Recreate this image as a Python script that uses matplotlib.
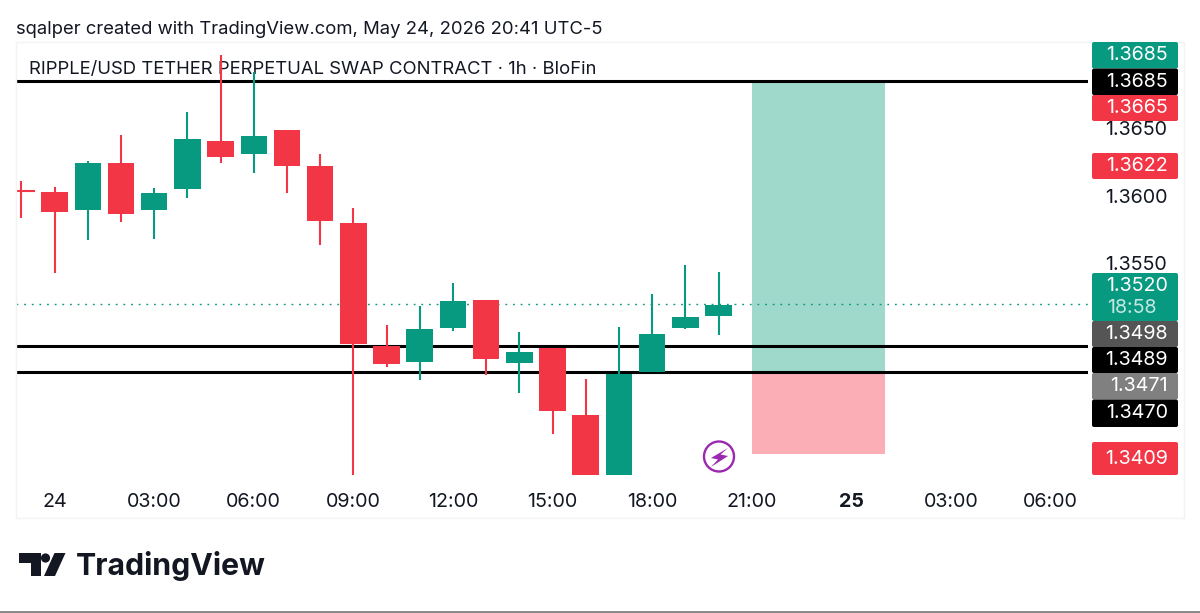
import matplotlib
matplotlib.use('Agg')
import matplotlib.pyplot as plt
from matplotlib.patches import Rectangle, FancyBboxPatch, Polygon, Circle
from matplotlib.transforms import Affine2D

plt.rcParams['font.family'] = ['Inter', 'DejaVu Sans']

W, H = 1200, 613

# hours from May 24 00:00
hours = [-1, 0, 1, 2, 3, 4, 5, 6, 7, 8, 9, 10, 11, 12, 13, 14, 15, 16, 17, 18, 19, 20]
opens = [1.36039, 1.36029, 1.35898, 1.36241, 1.35898, 1.36049, 1.36408, 1.3631, 1.3649, 1.36221,
         1.35797, 1.34892, 1.34772, 1.35025, 1.35232, 1.34764, 1.34875, 1.34382, 1.33936, 1.347, 1.35025, 1.35114]
closes = [1.36039, 1.35879, 1.36241, 1.35866, 1.36019, 1.36421, 1.3629, 1.36441, 1.36221, 1.35817,
          1.34903, 1.34755, 1.35013, 1.35225, 1.34796, 1.34846, 1.34411, 1.33936, 1.34683, 1.34976, 1.35107, 1.35195]
highs = [1.3611, 1.36068, 1.36261, 1.36451, 1.36061, 1.36621, 1.37045, 1.36919, 1.3649, 1.3631,
         1.35908, 1.35045, 1.35186, 1.35358, 1.35232, 1.34996, 1.34875, 1.34644, 1.35028, 1.35277, 1.35489, 1.35437]
lows = [1.35839, 1.35428, 1.35674, 1.35809, 1.35679, 1.35982, 1.36241, 1.36172, 1.36022, 1.35639,
        1.33936, 1.34737, 1.34638, 1.34999, 1.34675, 1.3454, 1.34237, 1.33936, 1.33936, 1.347, 1.35018, 1.34969]

level_prices = [1.3685, 1.3489, 1.3470]
last_price = 1.3520
entry = 1.3470
target = 1.3685
stop = 1.3409
pos_start, pos_end = 21, 25

xtick_hours = [0, 3, 6, 9, 12, 15, 18, 21, 24, 27, 30]
xtick_labels = ['24', '03:00', '06:00', '09:00', '12:00', '15:00', '18:00', '21:00', '25', '03:00', '06:00']
ytick_prices = [1.3650, 1.3600, 1.3550]

tag_texts = ['1.3685', '1.3685', '1.3665', '1.3622', '1.3498', '1.3489', '1.3471', '1.3470', '1.3409']
tag_colors = ['#089981', '#000000', '#f23645', '#f23645', '#555555', '#000000', '#808080', '#000000', '#f23645']
tag_tops = [42, 68.5, 95, 153, 321, 347, 373, 399.5, 442]
tag_heights = [26.5, 26.5, 26, 26, 26, 26, 26.5, 27.5, 33]

GREEN = '#089981'
RED = '#f23645'
INK = '#131722'
FS = 14.2

fig = plt.figure(figsize=(W / 100, H / 100), dpi=100, facecolor='white')
# pixel coordinates, y going down like in the screenshot
pixel = Affine2D().scale(1, -1).translate(0, H)


def fx(px):
    return px / W


def fy(px):
    return 1 - px / H


# outer pane frame
fig.add_artist(Rectangle((16, 42), 1168, 476, transform=pixel, fc='none', ec='#f3f3f3', lw=1))

ax = fig.add_axes([fx(16), fy(476), 1072 / W, 434 / H])
ax.patch.set_alpha(0)
ax.set_xlim(-1.163, 31.13)
ax.set_ylim(1.33928, 1.37138)
for s in ax.spines.values():
    s.set_visible(False)

# position tool
ax.add_patch(Rectangle((pos_start, entry), pos_end - pos_start, target - entry,
                       fc='#9fd9cc', ec='none', zorder=1))
ax.add_patch(Rectangle((pos_start, stop), pos_end - pos_start, entry - stop,
                       fc='#fbaeb5', ec='none', zorder=1))

ax.axhline(last_price, color=GREEN, lw=1, dashes=(1.3, 4.2), zorder=2)
for p in level_prices:
    ax.axhline(p, color='black', lw=2.2, zorder=3)

# candles
for h, o, c, hi, lo in zip(hours, opens, closes, highs, lows):
    col = GREEN if c > o else RED
    ax.vlines(h, lo, hi, color=col, lw=1.5, zorder=5)
    if o == c:
        ax.hlines(o, h - 0.4, h + 0.4, color=col, lw=1.5, zorder=5)
    else:
        ax.bar(h, abs(c - o), 0.8, bottom=min(o, c), color=col, zorder=5)

ax.set_xticks(xtick_hours)
ax.set_xticklabels(xtick_labels)
ax.tick_params(axis='x', length=0, pad=12, labelsize=FS, colors=INK)
for lab, txt in zip(ax.get_xticklabels(), xtick_labels):
    if txt == '25':
        lab.set_fontweight('bold')

ax.yaxis.tick_right()
ax.set_yticks(ytick_prices)
ax.set_yticklabels(['%.4f' % p for p in ytick_prices])
ax.tick_params(axis='y', length=0, pad=12, labelsize=FS, colors=INK)

# title over chart, wicks stay on top
ax.text(29, 70, 'RIPPLE/USD TETHER PERPETUAL SWAP CONTRACT · 1h · BloFin', transform=pixel,
        fontsize=13.3, color=INK, va='center', ha='left', zorder=4, clip_on=False)
fig.text(fx(16), fy(30), 'sqalper created with TradingView.com, May 24, 2026 20:41 UTC-5',
         fontsize=13.3, color=INK, va='center', ha='left')

# price tags
TAG_L, TAG_W = 1092, 86


def tag_box(top, height, color):
    fig.add_artist(FancyBboxPatch((TAG_L + 2, top + 2), TAG_W - 4, height - 4,
                                  boxstyle='round,pad=2,rounding_size=2',
                                  transform=pixel, fc=color, ec='none'))


for txt, col, top, hgt in zip(tag_texts, tag_colors, tag_tops, tag_heights):
    tag_box(top, hgt, col)
    fig.text(fx(1168), fy(top + hgt / 2), txt, color='white', fontsize=FS, ha='right', va='center')

# last price tag with countdown
tag_box(273, 48, GREEN)
fig.text(fx(1168), fy(286), '%.4f' % last_price, color='white', fontsize=FS, ha='right', va='center')
fig.text(fx(1107), fy(308), '18:58', color='#c4e8e1', fontsize=FS, ha='left', va='center')

# lightning badge
fig.add_artist(Circle((719, 456.5), 15, transform=pixel, fc='white', ec='#9c27b0', lw=1.7))
fig.add_artist(Polygon([(728, 448), (711, 458), (718, 459.5), (711, 467), (728, 456), (720.5, 454.5)],
                       closed=True, transform=pixel, fc='#9c27b0', ec='none'))

# logo
fig.add_artist(Polygon([(18.5, 553), (41, 553), (41, 576), (31, 576), (31, 563), (18.5, 563)],
                       closed=True, transform=pixel, fc=INK, ec='none'))
fig.add_artist(Circle((45.5, 558), 4.6, transform=pixel, fc=INK, ec='none'))
fig.add_artist(Polygon([(54.5, 553), (65.5, 553), (55, 576), (44, 576)],
                       closed=True, transform=pixel, fc=INK, ec='none'))
fig.text(fx(76), fy(566), 'TradingView', fontsize=21.8, fontweight='bold', color=INK, va='center', ha='left')

# bottom edge of the screenshot
fig.add_artist(Rectangle((0, 0), 1, 2 / H, transform=fig.transFigure, fc='#8a8a8a', ec='none'))

fig.savefig('out.png', dpi=100)
